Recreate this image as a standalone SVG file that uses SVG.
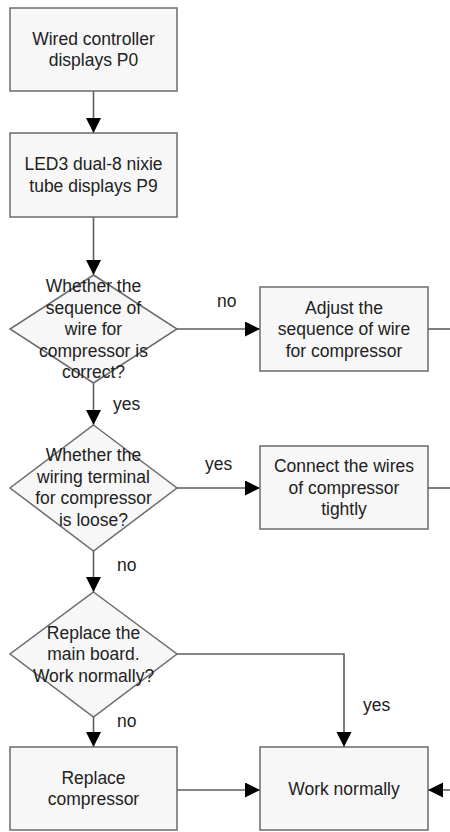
<svg xmlns="http://www.w3.org/2000/svg" width="450" height="832" viewBox="0 0 450 832">
<style>
.shape{fill:#f7f7f7;stroke:#6b6b6b;stroke-width:1.5}
.t{font-family:"Liberation Sans",Arial,sans-serif;font-size:17.5px;fill:#222;text-anchor:middle}
.l{font-family:"Liberation Sans",Arial,sans-serif;font-size:17.5px;fill:#222}
.c{fill:none;stroke:#5e5e5e;stroke-width:1.6}
</style>
<defs>
<marker id="ah" markerUnits="userSpaceOnUse" markerWidth="16" markerHeight="16" refX="15" refY="7.5" orient="auto">
<path d="M0,0 L15,7.5 L0,15 z" fill="#000"/>
</marker>
</defs>
<rect width="450" height="832" fill="#fff"/>
<g id="connectors">
<path class="c" d="M93.5,91 V133" marker-end="url(#ah)"/>
<path class="c" d="M93.5,217 V275" marker-end="url(#ah)"/>
<path class="c" d="M177,329 H260" marker-end="url(#ah)"/>
<path class="c" d="M428,329 H450"/>
<path class="c" d="M93.5,383 V425" marker-end="url(#ah)"/>
<path class="c" d="M177,488 H260" marker-end="url(#ah)"/>
<path class="c" d="M428,488 H450"/>
<path class="c" d="M93.5,551 V592" marker-end="url(#ah)"/>
<path class="c" d="M177,654 H344 V747" marker-end="url(#ah)"/>
<path class="c" d="M93.5,717 V747" marker-end="url(#ah)"/>
<path class="c" d="M177,790 H260" marker-end="url(#ah)"/>
<path class="c" d="M450,790 H428" marker-end="url(#ah)"/>
<text class="l" x="217" y="307">no</text>
<text class="l" x="113" y="410">yes</text>
<text class="l" x="205" y="470">yes</text>
<text class="l" x="117" y="571">no</text>
<text class="l" x="117" y="727">no</text>
<text class="l" x="363" y="711">yes</text>
</g>
<g id="n1">
<rect class="shape" x="10" y="8" width="167" height="83"/>
<text class="t" x="93.5" y="44.5">Wired controller</text>
<text class="t" x="93.5" y="66">displays P0</text>
</g>
<g id="n2">
<rect class="shape" x="10" y="133" width="167" height="84"/>
<text class="t" x="93.5" y="169.5">LED3 dual-8 nixie</text>
<text class="t" x="93.5" y="191.5">tube displays P9</text>
</g>
<g id="d1">
<polygon class="shape" points="93.5,275 177,329 93.5,383 10,329"/>
<text class="t" x="93.5" y="292">Whether the</text>
<text class="t" x="93.5" y="313.5">sequence of</text>
<text class="t" x="93.5" y="335">wire for</text>
<text class="t" x="93.5" y="356.5">compressor is</text>
<text class="t" x="93.5" y="378">correct?</text>
</g>
<g id="n3">
<rect class="shape" x="260" y="287" width="168" height="84"/>
<text class="t" x="344" y="313.5">Adjust the</text>
<text class="t" x="344" y="335">sequence of wire</text>
<text class="t" x="344" y="356.5">for compressor</text>
</g>
<g id="d2">
<polygon class="shape" points="93.5,425 177,488 93.5,551 10,488"/>
<text class="t" x="93.5" y="461">Whether the</text>
<text class="t" x="93.5" y="483">wiring terminal</text>
<text class="t" x="93.5" y="504">for compressor</text>
<text class="t" x="93.5" y="526">is loose?</text>
</g>
<g id="n4">
<rect class="shape" x="260" y="446" width="168" height="83"/>
<text class="t" x="344" y="472">Connect the wires</text>
<text class="t" x="344" y="493.5">of compressor</text>
<text class="t" x="344" y="515">tightly</text>
</g>
<g id="d3">
<polygon class="shape" points="93.5,592 177,654 93.5,717 10,654"/>
<text class="t" x="93.5" y="638.5">Replace the</text>
<text class="t" x="93.5" y="660">main board.</text>
<text class="t" x="93.5" y="681.5">Work normally?</text>
</g>
<g id="n5">
<rect class="shape" x="10" y="747" width="167" height="83"/>
<text class="t" x="93.5" y="784">Replace</text>
<text class="t" x="93.5" y="805">compressor</text>
</g>
<g id="n6">
<rect class="shape" x="260" y="747" width="168" height="83"/>
<text class="t" x="344" y="795">Work normally</text>
</g>
</svg>
